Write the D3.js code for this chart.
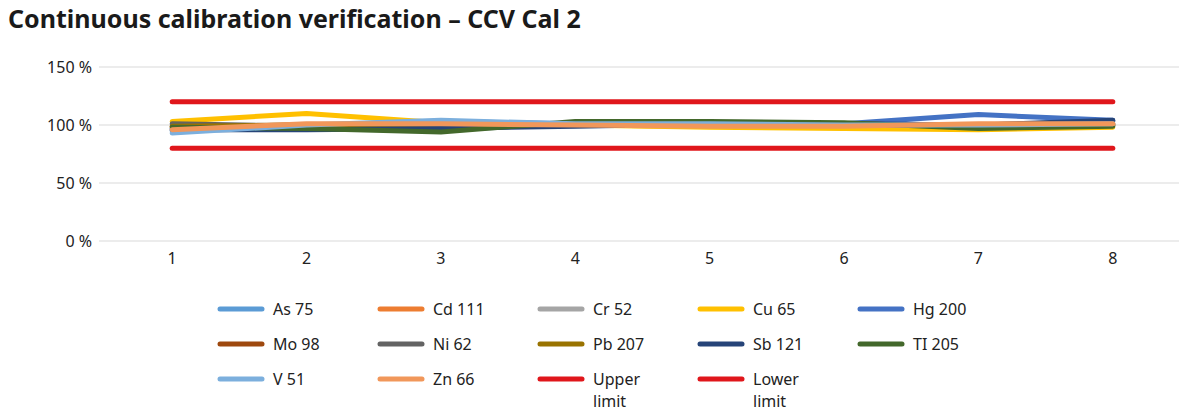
<!DOCTYPE html>
<html>
  <head>
    <meta charset="utf-8" />
    <script src="https://d3js.org/d3.v7.min.js"></script>
    <style>
      body {
        margin: 0;
        background: #fff;
      }
      text {
        font-family: "Noto Sans", sans-serif;
        fill: #222;
      }
    </style>
  </head>
  <body>
    <div id="my_chart"></div>
    <script>
      // measurement points 1..8
      const points = [1, 2, 3, 4, 5, 6, 7, 8];
      const yTicks = [0, 50, 100, 150];

      // recovery in % per element
      const as75 = [95, 99, 102, 101, 100, 99, 99, 100];
      const cd111 = [98, 100, 101, 100, 99, 99, 100, 100];
      const cr52 = [97, 100, 102, 100, 100, 99, 100, 100];
      const cu65 = [103, 110, 102, 100, 98, 97, 96, 98];
      const hg200 = [97, 98, 103, 101, 100, 101, 109, 104];
      const mo98 = [99, 100, 101, 100, 100, 100, 100, 101];
      const ni62 = [101, 99, 100, 100, 100, 100, 100, 103];
      const pb207 = [99, 100, 99, 101, 100, 101, 99, 100];
      const sb121 = [96, 96, 97, 99, 101, 101, 100, 104];
      const tl205 = [98, 97, 94, 103, 103, 102, 97, 99];
      const v51 = [93, 100, 104, 101, 101, 100, 100, 101];
      const zn66 = [96, 101, 101, 100, 99, 99, 101, 101];
      const upperLimit = [120, 120, 120, 120, 120, 120, 120, 120];
      const lowerLimit = [80, 80, 80, 80, 80, 80, 80, 80];

      const series = [
        { name: "As 75", values: as75, color: "#5b9bd5" },
        { name: "Cd 111", values: cd111, color: "#ed7d31" },
        { name: "Cr 52", values: cr52, color: "#a5a5a5" },
        { name: "Cu 65", values: cu65, color: "#ffc000" },
        { name: "Hg 200", values: hg200, color: "#4472c4" },
        { name: "Mo 98", values: mo98, color: "#9e480e" },
        { name: "Ni 62", values: ni62, color: "#636363" },
        { name: "Pb 207", values: pb207, color: "#997300" },
        { name: "Sb 121", values: sb121, color: "#264478" },
        { name: "TI 205", values: tl205, color: "#43682b" },
        { name: "V 51", values: v51, color: "#7cafdd" },
        { name: "Zn 66", values: zn66, color: "#f1975a" },
        { name: "Upper limit", values: upperLimit, color: "#e0161b" },
        { name: "Lower limit", values: lowerLimit, color: "#e0161b" },
      ];

      const width = 1200,
        height = 417;

      const svg = d3
        .select("#my_chart")
        .append("svg")
        .attr("width", width)
        .attr("height", height);

      // title
      svg
        .append("text")
        .attr("x", 8)
        .attr("y", 28)
        .style("font-size", "25px")
        .style("font-weight", 700)
        .style("fill", "#1a1a1a")
        .text("Continuous calibration verification – CCV Cal 2");

      const x = d3.scaleBand().domain(points).range([105, 1180]);
      const y = d3.scaleLinear().domain([0, 150]).range([241, 67]);

      // gridlines
      svg
        .append("g")
        .selectAll("line")
        .data(yTicks)
        .enter()
        .append("line")
        .attr("x1", 99)
        .attr("x2", 1179)
        .attr("y1", (d) => y(d))
        .attr("y2", (d) => y(d))
        .attr("stroke", "#d9d9d9")
        .attr("stroke-width", 1);

      // y labels
      svg
        .append("g")
        .selectAll("text")
        .data(yTicks)
        .enter()
        .append("text")
        .attr("x", 92)
        .attr("y", (d) => y(d) + 5.5)
        .attr("text-anchor", "end")
        .style("font-size", "16px")
        .text((d) => d + " %");

      // x labels
      svg
        .append("g")
        .selectAll("text")
        .data(points)
        .enter()
        .append("text")
        .attr("x", (d) => x(d) + x.bandwidth() / 2)
        .attr("y", 264)
        .attr("text-anchor", "middle")
        .style("font-size", "16px")
        .text((d) => d);

      const line = d3
        .line()
        .x((d, i) => x(points[i]) + x.bandwidth() / 2)
        .y((d) => y(d));

      svg
        .append("g")
        .selectAll("path")
        .data(series)
        .enter()
        .append("path")
        .attr("fill", "none")
        .attr("stroke", (d) => d.color)
        .attr("stroke-width", 5)
        .attr("stroke-linejoin", "round")
        .attr("stroke-linecap", "round")
        .attr("d", (d) => line(d.values));

      // legend, 5 columns
      const legend = svg
        .append("g")
        .selectAll("g")
        .data(series)
        .enter()
        .append("g")
        .attr(
          "transform",
          (d, i) =>
            "translate(" + (220 + (i % 5) * 160) + "," + (309 + Math.floor(i / 5) * 35) + ")"
        );

      legend
        .append("line")
        .attr("x1", 0)
        .attr("x2", 42)
        .attr("stroke", (d) => d.color)
        .attr("stroke-width", 5)
        .attr("stroke-linecap", "round");

      // limit labels wrap onto two lines, like the original
      legend.each(function (d) {
        const g = d3.select(this);
        const lines = d.name.endsWith("limit") ? d.name.split(" ") : [d.name];
        lines.forEach((s, k) => {
          g.append("text")
            .attr("x", 53)
            .attr("y", 6 + k * 22)
            .style("font-size", "16px")
            .text(s);
        });
      });
    </script>
  </body>
</html>
